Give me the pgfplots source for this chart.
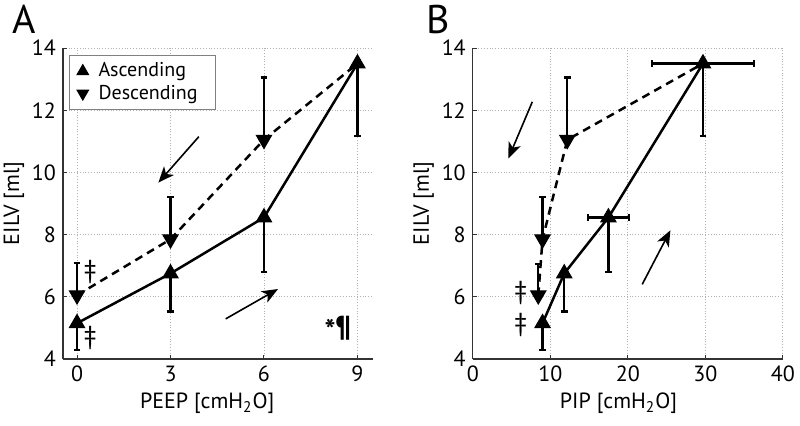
\documentclass[border=0pt]{standalone}
\usepackage{pgfplots}
\pgfplotsset{compat=1.18}
\usepackage{pgfplotstable}
\usepackage{fontspec}
\setmainfont{PT Sans}
\usetikzlibrary{arrows.meta}

\pgfplotstableread{
x y em
0 5.15 0.86
3 6.75 1.22
6 8.55 1.74
9 13.5 2.33
}\ascA
\pgfplotstableread{
x y ep
0 6.05 1.03
3 7.85 1.37
6 11.05 2.0
}\desA
\pgfplotstableread{
x y
0 6.05
3 7.85
6 11.05
9 13.5
}\desAline
\pgfplotstableread{
x y em xe
9.0 5.15 0.86 0
11.8 6.75 1.22 0
17.5 8.55 1.74 2.65
29.7 13.5 2.33 6.55
}\ascB
\pgfplotstableread{
x y ep
8.45 6.05 1.0
9.0 7.85 1.37
12.2 11.05 2.0
}\desB
\pgfplotstableread{
x y
8.45 6.05
9.0 7.85
12.2 11.05
29.7 13.5
}\desBline

\tikzset{arr/.style={black, line width=0.8pt, -{Stealth[length=8pt,width=6.5pt,inset=2.2pt]}}}

\pgfplotsset{
 myaxis/.style={
  scale only axis, width=155pt, height=155.5pt,
  ymin=4, ymax=14, ytick={4,6,...,14},
  axis x line*=bottom, axis y line*=left,
  grid=major, major grid style={densely dotted, black!30, line width=0.4pt},
  axis line style={black!80, line width=0.6pt},
  tick style={black!80, line width=0.5pt},
  major tick length=2pt,
  tick align=inside,
  /pgf/number format/assume math mode=true,
  ticklabel style={font=\fontsize{11}{12}\selectfont},
  label style={font=\fontsize{11}{12}\selectfont},
  ylabel={EILV [ml]},
  ylabel style={at={(axis description cs:-0.158,0.5)}, anchor=center},
  clip=false,
 },
 asc/.style={black, line width=1.25pt, mark=triangle*, mark size=4.3pt,
   mark options={solid, fill=black, line width=0.6pt}},
 des/.style={black, line width=1.25pt, mark=triangle*, mark size=4.3pt,
   mark options={solid, fill=black, rotate=180, line width=0.6pt}},
 ebar/.style={error bars/error bar style={line width=1.1pt, solid},
   error bars/error mark options={rotate=90, line width=1.1pt, mark size=1.7pt, solid}},
}

\begin{document}
\begin{tikzpicture}
\useasboundingbox (0,0) rectangle (400pt,212.5pt);
\node[anchor=base west, inner sep=0pt, font=\fontsize{20}{22}\selectfont] at (6pt,196pt) {A};
\node[anchor=base west, inner sep=0pt, font=\fontsize{20}{22}\selectfont] at (213pt,196pt) {B};

\begin{axis}[myaxis, at={(31.5pt,33pt)}, anchor=south west,
  xmin=-0.45, xmax=9.5, xtick={0,3,6,9},
  xlabel={PEEP [cmH\textsubscript{2}O]},
  xlabel style={at={(axis description cs:0.465,-0.16)}, anchor=base},
  legend style={at={(axis description cs:0.018,0.977)}, anchor=north west,
    draw=black!50, line width=0.5pt, font=\fontsize{10}{10}\selectfont,
    inner xsep=4pt, inner ysep=1.5pt, row sep=-1.5pt,
    nodes={inner xsep=5pt}, cells={anchor=west}},
  legend cell align=left]
\addlegendimage{only marks, mark=triangle*, mark size=3.3pt, fill=black, black}
\addlegendentry{Ascending}
\addlegendimage{only marks, mark=triangle*, mark size=3.3pt, fill=black, black, mark options={rotate=180}}
\addlegendentry{Descending}
\addplot[black, line width=1.25pt, dash pattern=on 4pt off 2.8pt] table[x=x,y=y] {\desAline};
\addplot[des, draw=none, ebar, error bars/.cd, y dir=plus, y explicit] table[x=x,y=y,y error plus=ep] {\desA};
\addplot[asc, ebar, error bars/.cd, y dir=minus, y explicit] table[x=x,y=y,y error minus=em] {\ascA};
\draw[arr] (axis cs:3.91,11.15) -- (axis cs:2.61,9.67);
\draw[arr] (axis cs:4.77,5.29) -- (axis cs:6.45,6.25);
\node[font=\fontsize{13}{14}\selectfont] at (axis cs:0.42,6.81) {‡};
\node[font=\fontsize{13}{14}\selectfont] at (axis cs:0.42,4.68) {‡};
\node[font=\bfseries\fontsize{14.5}{15}\selectfont] at (axis cs:8.37,5.0) {\raisebox{-2pt}{*}¶};
\end{axis}

\begin{axis}[myaxis, at={(236.4pt,33pt)}, anchor=south west,
  xmin=0, xmax=40, xtick={0,10,...,40},
  xlabel={PIP [cmH\textsubscript{2}O]},
  xlabel style={at={(axis description cs:0.47,-0.16)}, anchor=base}]
\addplot[black, line width=1.25pt, dash pattern=on 4pt off 2.8pt] table[x=x,y=y] {\desBline};
\addplot[des, draw=none, ebar, error bars/.cd, y dir=plus, y explicit] table[x=x,y=y,y error plus=ep] {\desB};
\addplot[asc, ebar, error bars/.cd, y dir=minus, y explicit, x dir=both, x explicit] table[x=x,y=y,y error minus=em,x error=xe] {\ascB};
\draw[arr] (axis cs:7.68,12.27) -- (axis cs:4.59,10.45);
\draw[arr] (axis cs:21.86,6.4) -- (axis cs:25.5,8.14);
\node[font=\fontsize{13}{14}\selectfont] at (axis cs:6.18,6.11) {‡};
\node[font=\fontsize{13}{14}\selectfont] at (axis cs:6.18,5.09) {‡};
\end{axis}
\end{tikzpicture}
\end{document}
